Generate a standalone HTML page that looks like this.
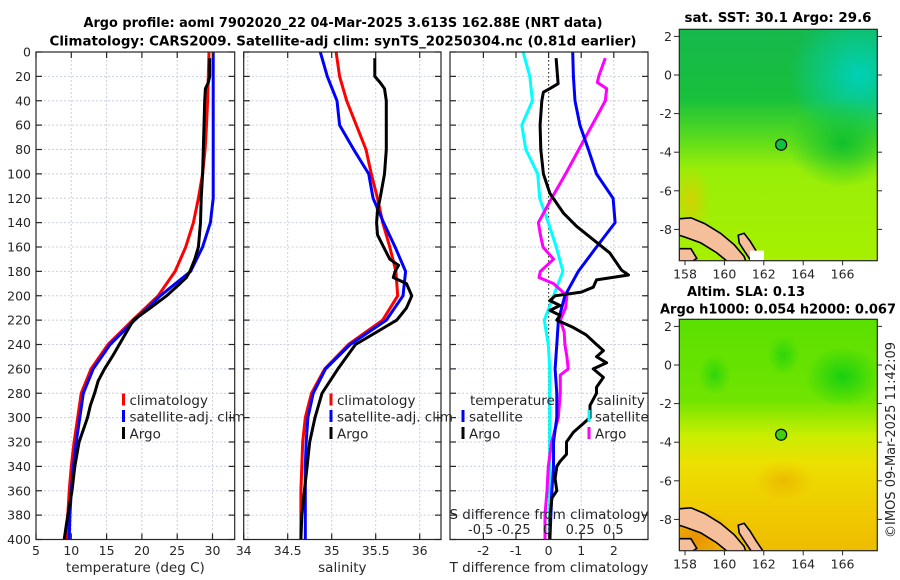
<!DOCTYPE html>
<html><head><meta charset="utf-8"><style>
html,body{margin:0;padding:0;background:#fff;}
svg{display:block;font-family:"DejaVu Sans","Liberation Sans",sans-serif;}
</style></head><body>
<svg id="fig" width="900" height="580" viewBox="0 0 900 580">
<defs>
<clipPath id="c1"><rect x="36" y="52" width="198.7" height="487.5"/></clipPath>
<clipPath id="c2"><rect x="243.7" y="52" width="197.3" height="487.5"/></clipPath>
<clipPath id="c3"><rect x="450" y="52" width="198" height="487.5"/></clipPath>
<clipPath id="m1"><rect x="679.3" y="29.3" width="198" height="231.4"/></clipPath>
<clipPath id="m2"><rect x="679.3" y="319.3" width="198" height="231.4"/></clipPath>
<linearGradient id="sstg" x1="0" y1="0" x2="0" y2="1">
<stop offset="0" stop-color="#16b84c"/><stop offset="0.3" stop-color="#18c03c"/><stop offset="0.45" stop-color="#50d820"/><stop offset="0.6" stop-color="#98ee08"/><stop offset="1" stop-color="#a6f000"/></linearGradient>
<radialGradient id="teal" cx="0.5" cy="0.5" r="0.5"><stop offset="0" stop-color="#00d0b8"/><stop offset="1" stop-color="#00d0b8" stop-opacity="0"/></radialGradient>
<radialGradient id="dg" cx="0.5" cy="0.5" r="0.5"><stop offset="0" stop-color="#10c030"/><stop offset="1" stop-color="#10c030" stop-opacity="0"/></radialGradient>
<radialGradient id="orr" cx="0.5" cy="0.5" r="0.5"><stop offset="0" stop-color="#f4c000"/><stop offset="1" stop-color="#f4c000" stop-opacity="0"/></radialGradient>
<linearGradient id="slag" x1="0" y1="0" x2="0" y2="1">
<stop offset="0" stop-color="#5ae000"/><stop offset="0.35" stop-color="#70e400"/><stop offset="0.5" stop-color="#c8ee00"/><stop offset="0.62" stop-color="#ece000"/><stop offset="0.85" stop-color="#f0c800"/><stop offset="1" stop-color="#eebc00"/></linearGradient>
<radialGradient id="gb" cx="0.5" cy="0.5" r="0.5"><stop offset="0" stop-color="#18d010"/><stop offset="1" stop-color="#18d010" stop-opacity="0"/></radialGradient>
<radialGradient id="ob" cx="0.5" cy="0.5" r="0.5"><stop offset="0" stop-color="#e89000"/><stop offset="1" stop-color="#e89000" stop-opacity="0"/></radialGradient>
</defs>
<g id="layer"></g>
</svg>
<script>
// ---------- data ----------
const depthClim = [0,20,40,60,80,100,120,140,160,180,200,220,240,260,280,300,320,340,360,380,400];
const tempClim = [29.5,29.4,29.3,29.15,28.95,28.6,28.0,27.3,26.2,24.7,22.3,18.7,15.2,12.8,11.4,10.9,10.4,10.0,9.7,9.5,9.3];
const tempSat = [30.1,30.1,30.1,30.1,30.1,30.1,30.1,29.7,28.6,26.9,22.6,19.0,15.5,13.1,11.7,11.2,10.7,10.3,10.0,9.8,9.7];
const depthArgoT = [5,20,25,30,40,60,80,100,120,140,160,170,180,185,190,200,210,220,230,240,250,260,270,280,290,300,320,340,360,380,400];
const tempArgo = [29.6,29.6,29.4,29.0,28.9,28.8,28.7,28.6,28.4,28.3,28.0,27.5,26.8,26.3,25.4,23.5,21.2,18.8,17.8,16.8,15.8,14.7,13.8,13.3,12.7,12.3,11.1,10.5,10.1,9.5,9.0];
const salClim = [35.05,35.09,35.17,35.28,35.39,35.45,35.52,35.58,35.66,35.73,35.75,35.58,35.19,34.92,34.77,34.70,34.67,34.66,34.65,34.65,34.65];
const salSat = [34.87,34.95,35.06,35.09,35.25,35.42,35.47,35.59,35.72,35.84,35.81,35.62,35.21,34.93,34.79,34.73,34.71,34.70,34.70,34.70,34.70];
const depthArgoS = [5,20,25,30,40,60,80,100,120,130,140,150,160,170,175,180,185,190,200,210,220,240,260,280,300,320,340,360,380,400];
const salArgo = [35.49,35.49,35.55,35.60,35.62,35.62,35.62,35.60,35.55,35.52,35.51,35.52,35.59,35.66,35.76,35.72,35.70,35.85,35.91,35.85,35.74,35.27,35.07,34.89,34.81,34.75,34.72,34.69,34.66,34.65];
const dTempSat = [0.74,0.76,0.81,0.96,1.22,1.47,1.98,2.04,1.47,0.91,0.5,0.3,0.25,0.2,0.25,0.25,0.15,0.15,0.1,0.07,0.04];
const depthDiffTA = [5,26,30,33,40,60,80,100,116,132,143,154,165,179,183,187,193,197,200,204,208,212,216,220,226,232,240,245,250,255,260,267,275,280,290,300,312,320,330,336,340,350,360,366,380,400];
const dTempArgo = [0.23,0.29,0.04,-0.16,-0.21,-0.26,-0.24,-0.16,0.04,0.45,0.86,1.37,1.88,2.24,2.45,1.47,1.37,1.0,0.2,0.04,0.35,0.04,0.35,0.25,0.75,1.15,1.47,1.68,1.47,1.78,1.37,1.68,1.47,1.47,1.27,1.27,0.76,0.55,0.55,0.35,0.25,0.2,0.25,0.1,0.05,0.04];
const dSalSat = [-0.18,-0.13,-0.11,-0.19,-0.16,-0.07,-0.055,0.01,0.07,0.12,0.05,-0.02,0.01,0.02,0.02,0.02,0.02,0.02,0.02,0.02,0.02];
const depthDiffSA = [5,20,25,30,40,60,80,100,120,140,150,160,165,170,180,185,190,200,210,220,230,240,250,260,265,280,300,320,340,360,380,400];
const dSalArgo = [0.44,0.39,0.38,0.45,0.44,0.34,0.24,0.14,0.035,-0.065,-0.05,-0.03,0.01,0.05,-0.05,-0.06,0.05,0.15,0.14,0.1,0.13,0.135,0.15,0.16,0.1,0.1,0.085,0.035,0.01,0.0,-0.015,-0.015];
const depthTicks = [0,20,40,60,80,100,120,140,160,180,200,220,240,260,280,300,320,340,360,380,400];
const tempTicks = [5,10,15,20,25,30,35];
const salTicks = [34,34.5,35,35.5,36];
const salTickLabels = ["34","34.5","35","35.5","36"];
const dtTicks = [-2,-1,0,1,2];
const dsTicks = [-0.5,-0.25,0,0.25,0.5];
const dsTickLabels = ["-0.5","-0.25","0","0.25","0.5"];
const latTicks = [2,0,-2,-4,-6,-8];
const lonTicks = [158,160,162,164,166];
const floatLon = 162.88, floatLat = -3.613;

// ---------- scales ----------
const Y0=52, Y1=539.5;
const yD = d => Y0 + d*(Y1-Y0)/400;
const xT = t => 36 + (t-5)*7.06;
const xS = s => 243.7 + (s-34)*88;
const xDT = t => 548.6 + t*32.6;
const xDS = s => 547 + s*132.6;
const mx = lon => 685 + (lon-158)*19.7;
const my1 = lat => 75 - lat*19.3;
const my2 = lat => 365 - lat*19.3;

const NS="http://www.w3.org/2000/svg";
const layer=document.getElementById('layer');
function mk(tag, attrs, parent){const e=document.createElementNS(NS,tag);for(const k in attrs)e.setAttribute(k,attrs[k]);(parent||layer).appendChild(e);return e;}
function txt(x,y,s,attrs,parent){const e=mk('text',Object.assign({x:x,y:y,'font-size':12.5,fill:'#262626'},attrs||{}),parent);e.textContent=s;return e;}

function panel(px, name, clipId, xTicksVals, xf, xLabels, xlabel){
  const g=mk('g',{});
  
  
  const w=198;
  // grid
  depthTicks.forEach(d=>{const l=mk('line',{x1:px,x2:px+w,y1:yD(d),y2:yD(d),stroke:'#c9d0e8','stroke-width':1,'stroke-dasharray':'2,2'},g);
    
    });
  xTicksVals.forEach(v=>{const x=xf(v);const l=mk('line',{x1:x,x2:x,y1:Y0,y2:Y1,stroke:'#c9d0e8','stroke-width':1,'stroke-dasharray':'2,2'},g);
    
    });
  return g;
}
function frame(px,w,xTicksVals,xf,xLabels,xlabel,leftLabels){
  const g=mk('g',{});
  
  
  mk('rect',{x:px,y:Y0,width:w,height:Y1-Y0,fill:'none',stroke:'#262626','stroke-width':1.2},g);
  depthTicks.forEach(d=>{const y=yD(d);
    mk('line',{x1:px,x2:px+6,y1:y,y2:y,stroke:'#262626','stroke-width':1.2},g);
    mk('line',{x1:px+w-6,x2:px+w,y1:y,y2:y,stroke:'#262626','stroke-width':1.2},g);
    if(leftLabels){const t=txt(px-5,y+4.5,String(d),{'text-anchor':'end'},g);
      
      }
  });
  xTicksVals.forEach((v,i)=>{const x=xf(v);
    if(x<px-1||x>px+w+1)return;
    mk('line',{x1:x,x2:x,y1:Y1-6,y2:Y1,stroke:'#262626','stroke-width':1.2},g);
    mk('line',{x1:x,x2:x,y1:Y0,y2:Y0+6,stroke:'#262626','stroke-width':1.2},g);
    const t=txt(x,555,xLabels[i],{'text-anchor':'middle'},g);
    
    
  });
  const xl=txt(px+w/2,572,xlabel,{'text-anchor':'middle','font-size':13.5},g);
  
  
}
function line(xs, ds, xf, color, name, clip, w){
  const pts=xs.map((v,i)=>xf(v).toFixed(1)+','+yD(ds[i]).toFixed(1)).join(' ');
  const p=mk('polyline',{points:pts,fill:'none',stroke:color,'stroke-width':w||3,'stroke-linejoin':'round','clip-path':'url(#'+clip+')'});
  
  
}
function legendEntry(x,y,color,label,name){
  const g=mk('g',{});
  
  
  mk('rect',{x:x-1.5,y:y-7,width:3,height:12,fill:color},g);
  txt(x+6,y+4.5,label,{'font-size':13.5},g);
}

// panel 1
panel(36,'temperature-panel','c1',tempTicks,xT);
line(tempClim,depthClim,xT,'#ff0000','temp-climatology-line','c1');
line(tempSat,depthClim,xT,'#0000ff','temp-satellite-line','c1');
line(tempArgo,depthArgoT,xT,'#000000','temp-argo-line','c1');
frame(36,198.7,tempTicks,xT,tempTicks.map(String),'temperature (deg C)',true);
legendEntry(123.5,400.5,'#ff0000','climatology','legend-climatology');
legendEntry(123.5,417,'#0000ff','satellite-adj. clim','legend-satellite-adj');
legendEntry(123.5,434,'#000000','Argo','legend-argo');

// panel 2
panel(243.7,'salinity-panel','c2',salTicks,xS);
line(salClim,depthClim,xS,'#ff0000','sal-climatology-line','c2');
line(salSat,depthClim,xS,'#0000ff','sal-satellite-line','c2');
line(salArgo,depthArgoS,xS,'#000000','sal-argo-line','c2');
frame(243.7,197.3,salTicks,xS,salTickLabels,'salinity',false);
legendEntry(331,400.5,'#ff0000','climatology','legend-climatology-2');
legendEntry(331,417,'#0000ff','satellite-adj. clim','legend-satellite-adj-2');
legendEntry(331,434,'#000000','Argo','legend-argo-2');

// panel 3
panel(450,'difference-panel','c3',dtTicks,xDT);
const zl=mk('line',{x1:xDT(0),x2:xDT(0),y1:Y0,y2:Y1,stroke:'#3a4a30','stroke-width':1.2,'stroke-dasharray':'1.5,2.5'});


line(dSalSat,depthClim,xDS,'#00ffff','sal-diff-satellite-line','c3');
line(dSalArgo,depthDiffSA,xDS,'#ff00ff','sal-diff-argo-line','c3');
line(dTempSat,depthClim,xDT,'#0000ff','temp-diff-satellite-line','c3');
line(dTempArgo,depthDiffTA,xDT,'#000000','temp-diff-argo-line','c3');
frame(450,198,dtTicks,xDT,dtTicks.map(String),'T difference from climatology',false);
const lt=txt(470,405,'temperature',{'font-size':13.5});


const ls=txt(596.5,405,'salinity',{'font-size':13.5});


legendEntry(463,417,'#0000ff','satellite','legend-temp-satellite');
legendEntry(463,434,'#000000','Argo','legend-temp-argo');
legendEntry(589,417,'#00ffff','satellite','legend-sal-satellite');
legendEntry(589,434,'#ff00ff','Argo','legend-sal-argo');
const sdt=txt(549,519,'S difference from climatology',{'text-anchor':'middle','font-size':13.5});


dsTicks.forEach((v,i)=>{const t=txt(xDS(v),534,dsTickLabels[i],{'text-anchor':'middle','font-size':13});
  
  });

// titles
const t1=txt(343,27,'Argo profile: aoml 7902020_22 04-Mar-2025 3.613S 162.88E (NRT data)',{'text-anchor':'middle','font-weight':'bold','font-size':13.5,fill:'#000',textLength:519,lengthAdjust:'spacingAndGlyphs'});


const t2=txt(343,45.5,'Climatology: CARS2009. Satellite-adj clim: synTS_20250304.nc (0.81d earlier)',{'text-anchor':'middle','font-weight':'bold','font-size':13.5,fill:'#000',textLength:587,lengthAdjust:'spacingAndGlyphs'});



// maps
function land(g,my){
  const polys=[
    [[157.7,-7.45],[158.3,-7.4],[159.0,-7.7],[159.8,-8.2],[160.5,-8.8],[161.0,-9.4],[161.1,-9.7],[160.2,-9.7],[159.6,-9.2],[158.8,-8.7],[158.0,-8.4],[157.7,-8.3]],
    [[160.7,-8.3],[161.0,-8.2],[161.3,-8.6],[161.6,-9.1],[162.0,-9.7],[161.4,-9.7],[161.0,-9.1],[160.75,-8.7]],
    [[157.7,-9.0],[158.3,-9.0],[158.6,-9.5],[158.3,-9.7],[157.7,-9.7]]
  ];
  polys.forEach(p=>{const e=mk('polygon',{points:p.map(q=>mx(q[0]).toFixed(1)+','+my(q[1]).toFixed(1)).join(' '),fill:'#f5bf9c',stroke:'#000','stroke-width':1.6},g);
    
    });
}
function mapAxes(top,my,name){
  const g=mk('g',{});
  
  
  mk('rect',{x:679.3,y:top,width:198,height:231.4,fill:'none',stroke:'#262626','stroke-width':1.2},g);
  latTicks.forEach(l=>{const y=my(l);
    mk('line',{x1:679.3,x2:674,y1:y,y2:y,stroke:'#262626'},g);
    mk('line',{x1:877.3,x2:882,y1:y,y2:y,stroke:'#262626'},g);
    const t=txt(672,y+4.5,String(l),{'text-anchor':'end'},g);
    
    });
  lonTicks.forEach(l=>{const x=mx(l);
    mk('line',{x1:x,x2:x,y1:top+231.4,y2:top+236,stroke:'#262626'},g);
    const t=txt(x,top+249,String(l),{'text-anchor':'middle'},g);
    
    });
}
// map 1 SST
const g1=mk('g',{'clip-path':'url(#m1)'});


mk('rect',{x:679,y:29,width:199,height:232,fill:'url(#sstg)'},g1);
mk('ellipse',{cx:mx(166.8),cy:my1(0),rx:70,ry:70,fill:'url(#teal)'},g1);
mk('ellipse',{cx:mx(166),cy:my1(-3.5),rx:55,ry:45,fill:'url(#dg)'},g1);
mk('ellipse',{cx:mx(158.3),cy:my1(-6.5),rx:20,ry:35,fill:'url(#orr)',opacity:0.6},g1);
land(g1,my1);
mk('rect',{x:mx(161.3),y:my1(-9.1),width:14,height:12,fill:'#fff'},g1);
const c1=mk('circle',{cx:mx(floatLon),cy:my1(floatLat),r:5.5,fill:'#10c040',stroke:'#000','stroke-width':1.2});


mapAxes(29.3,my1,'sst-map');
const mt1=txt(778,22,'sat. SST: 30.1 Argo: 29.6',{'text-anchor':'middle','font-weight':'bold','font-size':13.5,fill:'#000',textLength:187,lengthAdjust:'spacingAndGlyphs'});



// map 2 SLA
const g2=mk('g',{'clip-path':'url(#m2)'});


mk('rect',{x:679,y:319,width:199,height:232,fill:'url(#slag)'},g2);
mk('ellipse',{cx:mx(166),cy:my2(-0.6),rx:38,ry:30,fill:'url(#gb)'},g2);
mk('ellipse',{cx:mx(163),cy:my2(0.5),rx:16,ry:20,fill:'url(#gb)',opacity:0.7},g2);
mk('ellipse',{cx:mx(159.5),cy:my2(-0.5),rx:16,ry:20,fill:'url(#gb)',opacity:0.7},g2);
mk('ellipse',{cx:mx(158.5),cy:my2(-9),rx:40,ry:30,fill:'url(#ob)'},g2);
mk('ellipse',{cx:mx(163),cy:my2(-6),rx:30,ry:20,fill:'url(#ob)',opacity:0.4},g2);
land(g2,my2);
const c2=mk('circle',{cx:mx(floatLon),cy:my2(floatLat),r:5.5,fill:'#40d010',stroke:'#000','stroke-width':1.2});


mapAxes(319.3,my2,'sla-map');
const mt2=txt(746,296,'Altim. SLA: 0.13',{'text-anchor':'middle','font-weight':'bold','font-size':13.5,fill:'#000',textLength:118,lengthAdjust:'spacingAndGlyphs'});


const mt3=txt(778,313.5,'Argo h1000: 0.054 h2000: 0.067',{'text-anchor':'middle','font-weight':'bold','font-size':13.5,fill:'#000',textLength:236,lengthAdjust:'spacingAndGlyphs'});


const cr=txt(0,0,'©IMOS 09-Mar-2025 11:42:09',{'text-anchor':'middle','font-size':13,transform:'translate(895,440) rotate(-90)',textLength:196,lengthAdjust:'spacingAndGlyphs'});


</script>
</body></html>
